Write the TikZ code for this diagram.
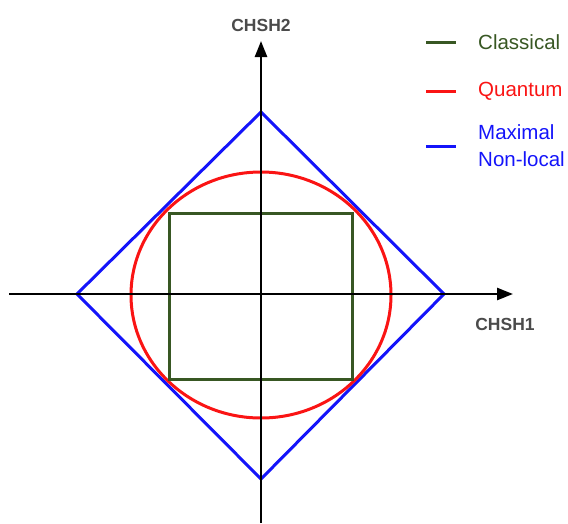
\documentclass[tikz,border=0pt]{standalone}
\usepackage{fontspec}
\setmainfont{Liberation Sans}
\usepackage{xcolor}
\definecolor{classgreen}{RGB}{56, 87, 35}
\definecolor{quantred}{RGB}{250, 20, 20}
\definecolor{maxblue}{RGB}{20, 20, 250}
\definecolor{axisgray}{RGB}{75, 75, 75}
\usetikzlibrary{positioning, arrows.meta}

\begin{document}
\begin{tikzpicture}[x=1pt, y=-1pt,
    axis/.style={line width=2.5pt, -{Triangle[length=16pt, width=12pt]}},
    axislabel/.style={inner sep=0pt, font=\fontsize{17.5}{17.5}\selectfont\bfseries\color{axisgray}},
    legline/.style={line width=3pt},
    legtext/.style={inner sep=0pt, align=left, anchor=west,
                    font=\fontsize{20.5}{27}\selectfont}]
    \useasboundingbox (0,0) rectangle (568,523);
    % axes
    \coordinate (o) at (261,294);
    \coordinate (xstart) at (9,294);
    \coordinate (xend) at (513,294);
    \coordinate (ystart) at (261,523);
    \coordinate (yend) at (261,41);
    % regions
    \coordinate (top) at (261,112);
    \coordinate (bottom) at (261,479);
    \coordinate (left) at (77,294);
    \coordinate (right) at (444,294);
    \draw[maxblue, line width=3pt, line join=miter]
        (top) -- (right) -- (bottom) -- (left) -- cycle;
    \draw[quantred, line width=3pt] (261,295) ellipse (130 and 123);
    \draw[classgreen, line width=3pt] (169,213) rectangle (352,379);
    \draw[axis] (xstart) -- (xend);
    \draw[axis] (ystart) -- (yend);
    \node[axislabel, above=9pt of yend] (chshtwo) {CHSH2};
    \node[axislabel, below=24pt of xend, xshift=-8pt] (chshone) {CHSH1};
    % legend
    \coordinate (cla) at (426,42);  \coordinate (clb) at (456,42);
    \coordinate (qua) at (426,91);  \coordinate (qub) at (456,91);
    \coordinate (mxa) at (426,146); \coordinate (mxb) at (456,146);
    \draw[legline, classgreen] (cla) -- (clb);
    \draw[legline, quantred] (qua) -- (qub);
    \draw[legline, maxblue] (mxa) -- (mxb);
    \node[legtext, right=22pt of clb, text=classgreen] (classical) {Classical};
    \node[legtext, right=22pt of qub, text=quantred] (quantum) {Quantum};
    \node[legtext, right=22pt of mxb, text=maxblue] (maximal) {Maximal\\Non-local};
\end{tikzpicture}
\end{document}
